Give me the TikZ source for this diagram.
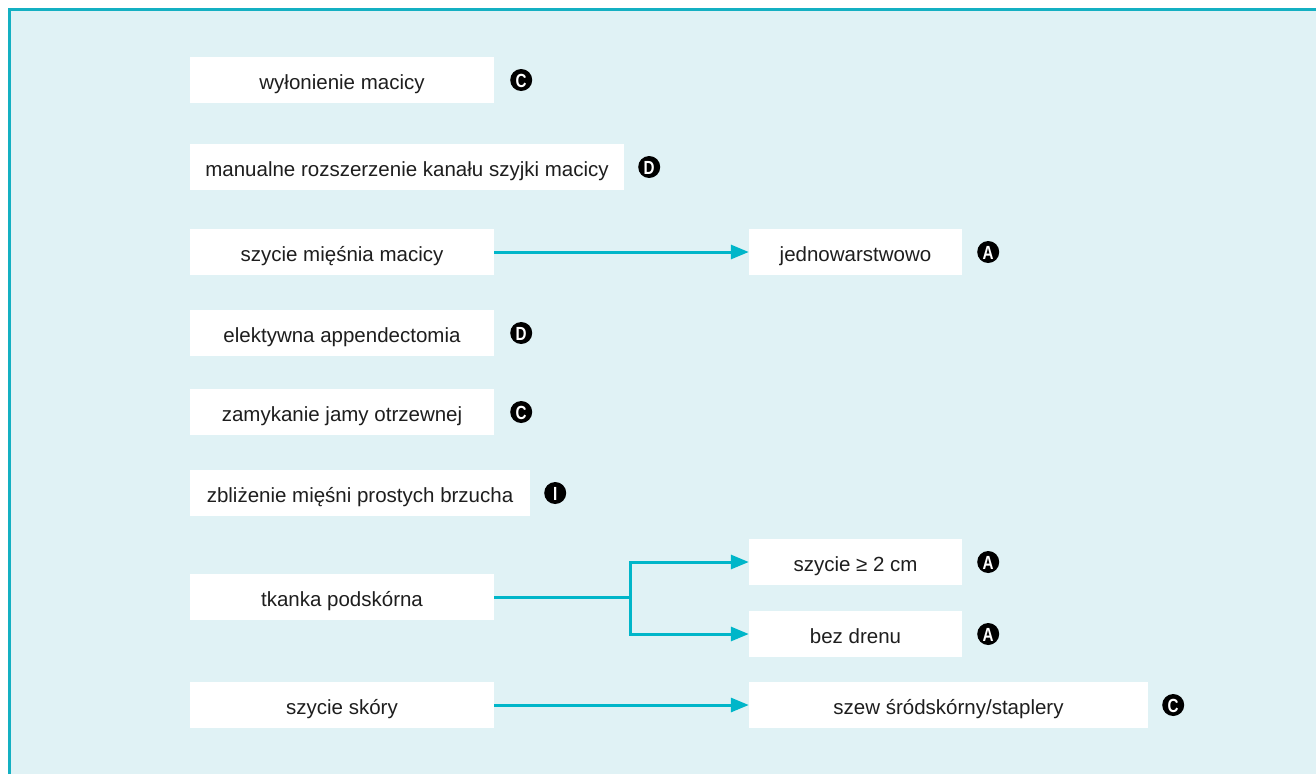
\documentclass[tikz,border=0pt]{standalone}
\usepackage{fontspec}
\setmainfont{Liberation Sans}
\usetikzlibrary{arrows.meta}
\definecolor{panelfill}{HTML}{E0F2F5}
\definecolor{panelline}{HTML}{14B0C2}
\definecolor{arrowcol}{HTML}{00B6C9}
\definecolor{txt}{HTML}{1E1E1E}
% narrow bold letter for the grade badges
\newcommand{\gradeletter}[1]{\scalebox{0.8}[1]{#1}}
\tikzset{
  box/.style={rectangle, fill=white, minimum height=46pt, inner sep=0pt,
    text height=19pt, text depth=0pt,
    text=txt, font=\fontsize{20.5}{24}\selectfont},
  badge/.style={circle, fill=black, text=white, inner sep=0pt,
    minimum size=22pt, text height=14pt, text depth=0pt,
    font=\fontsize{19}{19}\selectfont\bfseries},
  arr/.style={draw=arrowcol, line width=3pt,
    -{Triangle[length=18pt,width=14pt]}},
}
\begin{document}
\begin{tikzpicture}[x=1pt,y=-1pt]
  \useasboundingbox (0,0) rectangle (1316,774);
  % panel
  \fill[panelfill] (8,8) rectangle (1316,774);
  \draw[panelline, line width=3pt] (9,774) -- (9,9) -- (1316,9);

  % left column
  \node[box, minimum width=304pt] (b1) at (342,80) {wyłonienie macicy};
  \node[box, minimum width=434pt] (b2) at (407,167) {manualne rozszerzenie kanału szyjki macicy};
  \node[box, minimum width=304pt] (b3) at (342,252) {szycie mięśnia macicy};
  \node[box, minimum width=304pt] (b4) at (342,333) {elektywna appendectomia};
  \node[box, minimum width=304pt] (b5) at (342,412) {zamykanie jamy otrzewnej};
  \node[box, minimum width=340pt] (b6) at (360,493) {zbliżenie mięśni prostych brzucha};
  \node[box, minimum width=304pt] (b7) at (342,597) {tkanka podskórna};
  \node[box, minimum width=304pt] (b8) at (342,705) {szycie skóry};

  % right column
  \node[box, minimum width=213pt] (r3) at (855.5,252) {jednowarstwowo};
  \node[box, minimum width=213pt] (r7a) at (855.5,562) {szycie ≥ 2 cm};
  \node[box, minimum width=213pt] (r7b) at (855.5,634) {bez drenu};
  \node[box, minimum width=399pt] (r8) at (948.5,705) {szew śródskórny/staplery};

  % grade badges
  \node[badge] (g1) at ([xshift=27pt]b1.east) {\gradeletter{C}};
  \node[badge] (g2) at ([xshift=25pt]b2.east) {\gradeletter{D}};
  \node[badge] (g3) at ([xshift=26pt]r3.east) {\gradeletter{A}};
  \node[badge] (g4) at ([xshift=27pt]b4.east) {\gradeletter{D}};
  \node[badge] (g5) at ([xshift=27pt]b5.east) {\gradeletter{C}};
  \node[badge] (g6) at ([xshift=25pt]b6.east) {\gradeletter{I}};
  \node[badge] (g7a) at ([xshift=26pt]r7a.east) {\gradeletter{A}};
  \node[badge] (g7b) at ([xshift=26pt]r7b.east) {\gradeletter{A}};
  \node[badge] (g8) at ([xshift=25pt]r8.east) {\gradeletter{C}};

  % connectors
  \draw[arr] (b3.east) -- (r3.west);
  \coordinate (split) at (630,597);
  \draw[arr] (b7.east) -- (split) |- (r7a.west);
  \draw[arr] (split) |- (r7b.west);
  \draw[arr] (b8.east) -- (r8.west);
\end{tikzpicture}
\end{document}
